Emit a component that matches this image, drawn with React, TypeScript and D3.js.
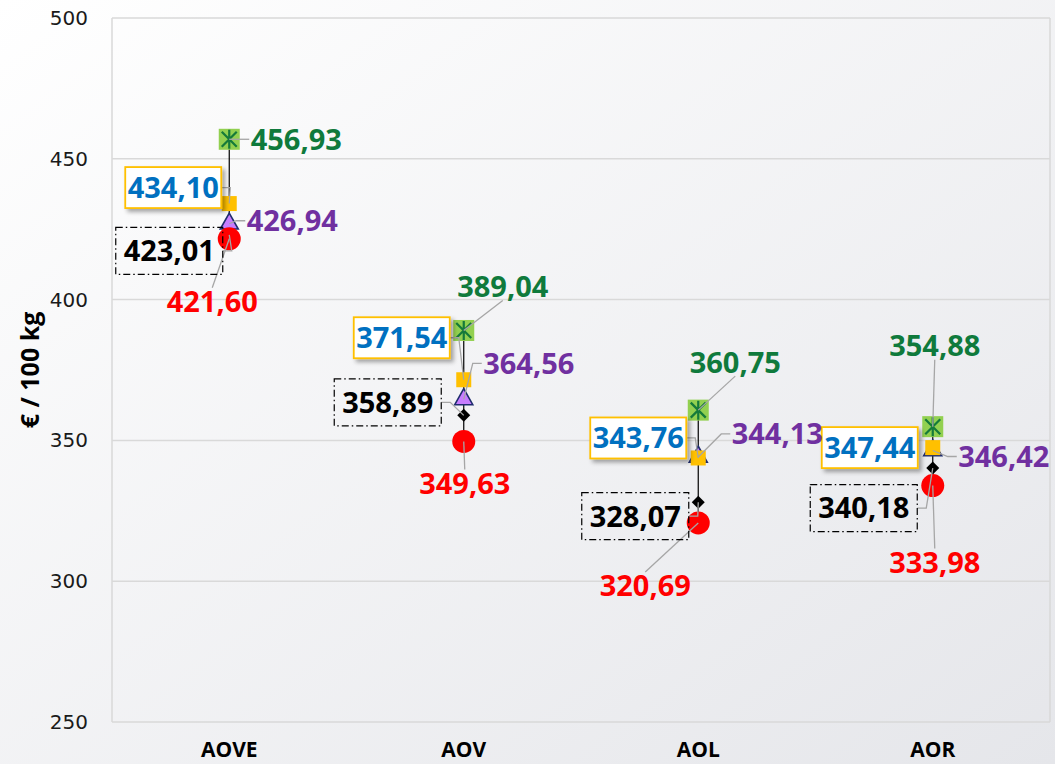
import React from 'react';
import * as d3 from 'd3';

const categories = ['AOVE', 'AOV', 'AOL', 'AOR'];
const greenValues = [456.93, 389.04, 360.75, 354.88];
const orangeValues = [434.1, 371.54, 343.76, 347.44];
const purpleValues = [426.94, 364.56, 344.13, 346.42];
const blackValues = [423.01, 358.89, 328.07, 340.18];
const redValues = [421.6, 349.63, 320.69, 333.98];
const yTicks = [250, 300, 350, 400, 450, 500];
const yTitle = '€ / 100 kg';

// label placement (style only): offset of label centre from the marker, and leader anchor side
const greenLabelPos = [
  { dx: 67, dy: 0, side: 'l' },
  { dx: 39, dy: -44, side: 'b' },
  { dx: 37, dy: -48, side: 'b' },
  { dx: 2, dy: -81, side: 'b' },
];
const orangeLabelPos = [
  { dx: -56, dy: -16, side: 'r' },
  { dx: -62, dy: -42, side: 'r' },
  { dx: -60, dy: -20, side: 'r' },
  { dx: -63, dy: 0, side: 'r' },
];
const purpleLabelPos = [
  { dx: 63, dy: -3, side: 'l' },
  { dx: 65, dy: -36, side: 'l' },
  { dx: 79, dy: -23, side: 'l' },
  { dx: 71, dy: 6, side: 'l' },
];
const blackLabelPos = [
  { dx: -60, dy: 16, side: 'r' },
  { dx: -76, dy: -13, side: 'r' },
  { dx: -63, dy: 14, side: 'r' },
  { dx: -69, dy: 40, side: 'r' },
];
const redLabelPos = [
  { dx: -17, dy: 63, side: 't' },
  { dx: 1, dy: 42, side: 't' },
  { dx: -53, dy: 63, side: 't' },
  { dx: 2, dy: 77, side: 't' },
];

const W = 1055;
const H = 764;
const M = { left: 112, right: 1050, top: 18, bottom: 722 };
const LABEL_FONT = "'Open Sans', sans-serif";
const LABEL_SIZE = 29;

const fmt = (v: number) => d3.format('.2f')(v).replace('.', ',');

type Pos = { dx: number; dy: number; side: string };

function leaderPath(mx: number, my: number, cx: number, cy: number, w: number, h: number, side: string) {
  let ax = cx, ay = cy;
  if (side === 'l') ax = cx - w / 2;
  if (side === 'r') ax = cx + w / 2;
  if (side === 't') ay = cy - h / 2;
  if (side === 'b') ay = cy + h / 2;
  const dist = Math.hypot(ax - mx, ay - my);
  if (dist < 16) return null;
  if (side === 'l' || side === 'r') {
    const stub = side === 'l' ? -9 : 9;
    return `M${ax},${ay}L${ax + stub},${ay}L${mx},${my}`;
  }
  return `M${ax},${ay}L${mx},${my}`;
}

export default function App() {
  const x = d3.scaleBand<string>().domain(categories).range([M.left, M.right]);
  const y = d3.scaleLinear().domain([250, 500]).range([M.bottom, M.top]);
  const cx = (i: number) => (x(categories[i]) as number) + x.bandwidth() / 2;

  const leaders: JSX.Element[] = [];
  const labels: JSX.Element[] = [];

  const addLabels = (
    values: number[],
    pos: Pos[],
    kind: 'text' | 'blue' | 'black',
    color: string,
    key: string
  ) => {
    values.forEach((v, i) => {
      const mx = cx(i);
      const my = y(v);
      const p = pos[i];
      const lx = mx + p.dx;
      const ly = my + p.dy;
      let w = 94, h = 28;
      if (kind === 'blue') { w = 96; h = 41; }
      if (kind === 'black') { w = 107; h = 47; }
      const d = leaderPath(mx, my, lx, ly, w, h, p.side);
      if (d) leaders.push(<path key={key + 'l' + i} d={d} fill="none" stroke="#a6a6a6" strokeWidth={1.3} />);
      labels.push(
        <g key={key + 't' + i}>
          {kind === 'blue' && (
            <rect x={lx - w / 2} y={ly - h / 2} width={w} height={h} fill="#ffffff" stroke="#ffc000" strokeWidth={1.8} filter="url(#shadow)" />
          )}
          {kind === 'black' && (
            <rect x={lx - w / 2} y={ly - h / 2} width={w} height={h} fill="none" stroke="#000" strokeWidth={1.2} strokeDasharray="7,3,1.5,3" />
          )}
          <text x={lx} y={ly + LABEL_SIZE * 0.36} textAnchor="middle" fill={color} fontFamily={LABEL_FONT} fontWeight={700} fontSize={LABEL_SIZE}>
            {fmt(v)}
          </text>
        </g>
      );
    });
  };

  addLabels(greenValues, greenLabelPos, 'text', '#0f7a3c', 'g');
  addLabels(orangeValues, orangeLabelPos, 'blue', '#0070c0', 'o');
  addLabels(purpleValues, purpleLabelPos, 'text', '#7030a0', 'p');
  addLabels(blackValues, blackLabelPos, 'black', '#000000', 'k');
  addLabels(redValues, redLabelPos, 'text', '#ff0000', 'r');

  const allSeries = [greenValues, orangeValues, purpleValues, blackValues, redValues];

  return (
    <svg width={W} height={H} style={{ position: 'absolute', left: 0, top: 0 }}>
      <defs>
        <linearGradient id="bg" x1="0" y1="0" x2="1" y2="1">
          <stop offset="0" stopColor="#ffffff" />
          <stop offset="1" stopColor="#e5e6ea" />
        </linearGradient>
        <filter id="shadow" x="-20%" y="-20%" width="150%" height="160%">
          <feDropShadow dx="3" dy="3" stdDeviation="2" floodColor="#000" floodOpacity="0.35" />
        </filter>
      </defs>
      <rect x={0} y={0} width={W} height={H} fill="url(#bg)" />

      {/* gridlines */}
      {yTicks.map((t) => (
        <line key={'g' + t} x1={M.left} x2={M.right} y1={y(t)} y2={y(t)} stroke="#d9d9d9" strokeWidth={1.5} />
      ))}
      <line x1={M.left} x2={M.left} y1={M.top} y2={M.bottom} stroke="#d9d9d9" strokeWidth={1.5} />
      <line x1={M.right} x2={M.right} y1={M.top} y2={M.bottom} stroke="#d9d9d9" strokeWidth={1.5} />

      {/* y tick labels */}
      {yTicks.map((t) => (
        <text key={'t' + t} x={88} y={y(t) + 7} textAnchor="end" fontFamily="'DejaVu Sans', sans-serif" fontSize={20} fill="#1a1a1a">
          {t}
        </text>
      ))}
      <text
        transform={`translate(39,${(M.top + M.bottom) / 2}) rotate(-90)`}
        textAnchor="middle"
        fontFamily={LABEL_FONT}
        fontWeight={700}
        fontSize={25}
        fill="#000"
      >
        {yTitle}
      </text>

      {/* category labels */}
      {categories.map((c, i) => (
        <text key={c} x={cx(i)} y={757} textAnchor="middle" fontFamily={LABEL_FONT} fontWeight={700} fontSize={21} fill="#000">
          {c}
        </text>
      ))}

      {/* hi-lo lines */}
      {categories.map((c, i) => {
        const vals = allSeries.map((s) => s[i]);
        return (
          <line key={'hl' + c} x1={cx(i)} x2={cx(i)} y1={y(d3.max(vals) as number)} y2={y(d3.min(vals) as number)} stroke="#000" strokeWidth={1.2} />
        );
      })}

      {/* markers */}
      {purpleValues.map((v, i) => {
        const mx = cx(i), my = y(v);
        const w = 18, h = 16;
        return (
          <path key={'pu' + i} d={`M${mx},${my - (h * 2) / 3}L${mx + w / 2},${my + h / 3}L${mx - w / 2},${my + h / 3}Z`} fill="#c77dff" stroke="#1f2d6e" strokeWidth={1.6} />
        );
      })}
      {blackValues.map((v, i) => {
        const mx = cx(i), my = y(v), r = 6.5;
        return <path key={'bk' + i} d={`M${mx},${my - r}L${mx + r},${my}L${mx},${my + r}L${mx - r},${my}Z`} fill="#000" />;
      })}
      {redValues.map((v, i) => (
        <circle key={'rd' + i} cx={cx(i)} cy={y(v)} r={11.5} fill="#ff0000" />
      ))}
      {greenValues.map((v, i) => {
        const mx = cx(i), my = y(v), s = 10.5, a = 7.5;
        return (
          <g key={'gr' + i}>
            <rect x={mx - s} y={my - s} width={2 * s} height={2 * s} fill="#92d050" />
            <path d={`M${mx - a},${my - a}L${mx + a},${my + a}M${mx + a},${my - a}L${mx - a},${my + a}M${mx},${my - s + 1}L${mx},${my + s - 1}`} stroke="#157a3a" strokeWidth={2.2} />
          </g>
        );
      })}
      {orangeValues.map((v, i) => (
        <rect key={'or' + i} x={cx(i) - 7.5} y={y(v) - 7.5} width={15} height={15} fill="#ffc000" />
      ))}

      {leaders}
      {labels}
    </svg>
  );
}
